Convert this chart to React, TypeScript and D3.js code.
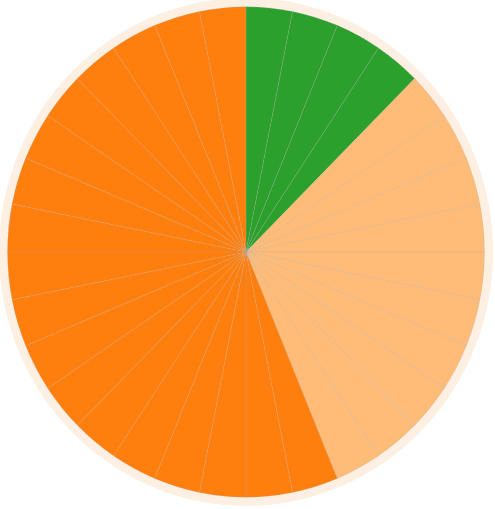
import * as d3 from 'd3';
import { useEffect, useRef } from 'react';

// 32 equal wedges, clockwise from 12 o'clock
const sliceGroups = [
  'green', 'green', 'green', 'green',
  'light', 'light', 'light', 'light', 'light',
  'light', 'light', 'light', 'light', 'light',
  'orange', 'orange', 'orange', 'orange', 'orange', 'orange',
  'orange', 'orange', 'orange', 'orange', 'orange', 'orange',
  'orange', 'orange', 'orange', 'orange', 'orange', 'orange',
];
const sliceValues = [
  1, 1, 1, 1,
  1, 1, 1, 1, 1, 1, 1, 1, 1, 1,
  1, 1, 1, 1, 1, 1, 1, 1, 1, 1, 1, 1, 1, 1, 1, 1, 1, 1,
];
const groupNames = ['green', 'light', 'orange'];
const groupColors = ['#2ca02c', '#ffbb78', '#ff7f0e'];

export default function App() {
  const w = 495;
  const h = 509;
  const vb = 495;
  const svgRef = useRef<SVGSVGElement>(null);

  useEffect(() => {
    if (svgRef.current == null) {
      return;
    }
    const cx = 246;
    const cy = 245;
    const radius = 238.5;

    const svg = d3.select(svgRef.current).select('#change');
    svg.selectAll('*').remove();

    const color = d3.scaleOrdinal<string, string>().domain(groupNames).range(groupColors);

    const g = svg.append('g').attr('transform', `translate(${cx}, ${cy})`);

    // pale halo behind the pie
    g.append('circle').attr('r', radius + 8.5).attr('fill', '#fdefe1');

    const pie = d3
      .pie<number>()
      .sort(null)
      .value((d) => d);
    const arc = d3.arc<d3.PieArcDatum<number>>().innerRadius(0).outerRadius(radius);

    g.selectAll('path.slice')
      .data(pie(sliceValues))
      .enter()
      .append('path')
      .attr('class', 'slice')
      .attr('d', arc)
      .attr('fill', (_d, i) => color(sliceGroups[i]))
      .attr('stroke', '#a8a8a8')
      .attr('stroke-opacity', 0.35)
      .attr('stroke-width', 0.6);
  }, []);

  return (
    <svg
      ref={svgRef}
      width={w}
      height={h}
      viewBox={`0 0 ${vb} ${vb}`}
      preserveAspectRatio='none'
      style={{ position: 'absolute', left: 0, top: 0 }}
    >
      <g id='change'></g>
    </svg>
  );
}
